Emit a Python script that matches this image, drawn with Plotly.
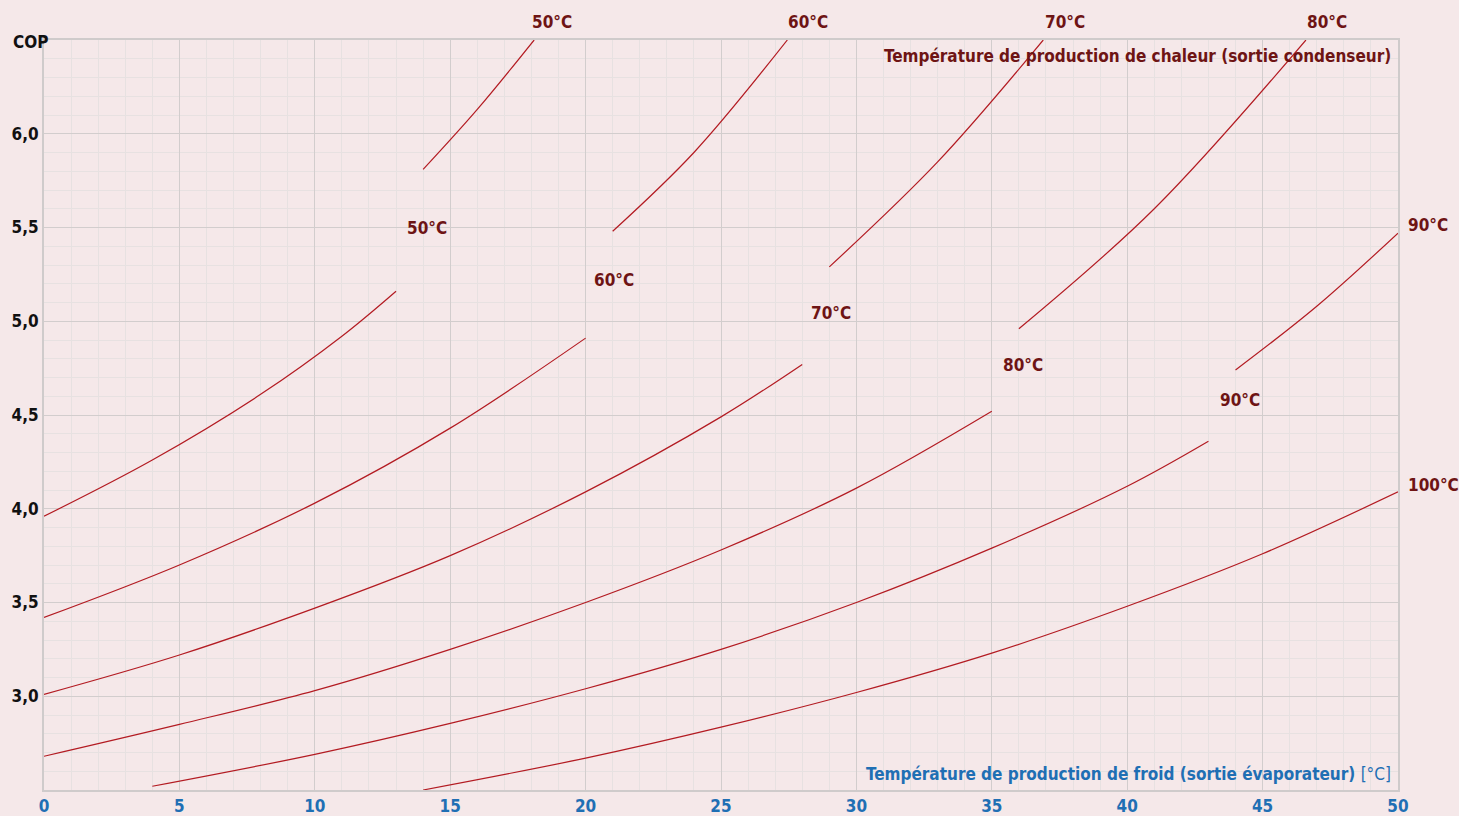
import plotly.graph_objects as go

# ---- lower family: COP vs evaporator outlet temperature (condenser outlet temperature as parameter)
x_l50 = [0, 4, 8, 11, 13]
cop_l50 = [3.96, 4.26, 4.61, 4.92, 5.16]

x_l60 = [0, 5, 10, 15, 20]
cop_l60 = [3.42, 3.70, 4.03, 4.43, 4.91]

x_l70 = [0, 5, 10, 15, 20, 25, 28]
cop_l70 = [3.01, 3.22, 3.47, 3.75, 4.09, 4.49, 4.77]

x_l80 = [0, 5, 10, 15, 20, 25, 30, 35]
cop_l80 = [2.68, 2.85, 3.03, 3.25, 3.50, 3.78, 4.11, 4.52]

x_l90 = [4, 10, 15, 20, 25, 30, 35, 40, 43]
cop_l90 = [2.52, 2.69, 2.855, 3.04, 3.25, 3.50, 3.79, 4.12, 4.36]

x_l100 = [14, 20, 25, 30, 35, 40, 45, 50]
cop_l100 = [2.50, 2.67, 2.835, 3.02, 3.23, 3.48, 3.76, 4.09]

# ---- upper family
x_u50 = [14, 16, 18.1]
cop_u50 = [5.81, 6.13, 6.50]

x_u60 = [21, 24, 27.45]
cop_u60 = [5.48, 5.90, 6.50]

x_u70 = [29, 33, 36.9]
cop_u70 = [5.29, 5.85, 6.50]

x_u80 = [36, 41, 46.6]
cop_u80 = [4.96, 5.60, 6.50]

x_u90 = [44, 47, 50]
cop_u90 = [4.74, 5.08, 5.47]

curves = [
    ("50°C", x_l50, cop_l50), ("60°C", x_l60, cop_l60), ("70°C", x_l70, cop_l70),
    ("80°C", x_l80, cop_l80), ("90°C", x_l90, cop_l90), ("100°C", x_l100, cop_l100),
    ("50°C", x_u50, cop_u50), ("60°C", x_u60, cop_u60), ("70°C", x_u70, cop_u70),
    ("80°C", x_u80, cop_u80), ("90°C", x_u90, cop_u90),
]

# labels: (text, x, y, anchor)
label_text = ["50°C", "60°C", "70°C", "80°C", "90°C", "100°C", "90°C",
              "50°C", "60°C", "70°C", "80°C"]
label_x = [14.15, 21.06, 29.07, 36.17, 44.18, 50.3, 50.3, 18.77, 28.22, 37.72, 47.36]
label_y = [5.50, 5.22, 5.045, 4.767, 4.58, 4.127, 5.514, 6.596, 6.596, 6.596, 6.596]
label_anchor = ["center"] * 5 + ["left", "left"] + ["center"] * 4

x_ticks = list(range(0, 51, 5))
y_ticks = [3.0, 3.5, 4.0, 4.5, 5.0, 5.5, 6.0]
y_ticktext = ["3,0", "3,5", "4,0", "4,5", "5,0", "5,5", "6,0"]
y_title = "COP"

X_RANGE = [0, 50]
Y_RANGE = [2.5, 6.5]

FONT = "DejaVu Sans Condensed, Liberation Sans Narrow, Arial Narrow, sans-serif"
RED = "#b31b22"
DARKRED = "#6e1414"
BLUE = "#1f6fb4"
BG = "#f5e8e9"

fig = go.Figure()
for name, xs, ys in curves:
    fig.add_trace(go.Scatter(x=xs, y=ys, mode="lines", name=name,
                             line=dict(color=RED, width=1.2, shape="spline", smoothing=1.0),
                             showlegend=False, hoverinfo="x+y"))


def to_paper(xv, yv):
    return ((xv - X_RANGE[0]) / (X_RANGE[1] - X_RANGE[0]),
            (yv - Y_RANGE[0]) / (Y_RANGE[1] - Y_RANGE[0]))


for t, xv, yv, anc in zip(label_text, label_x, label_y, label_anchor):
    px, py = to_paper(xv, yv)
    fig.add_annotation(x=px, y=py, xref="paper", yref="paper", text=f"<b>{t}</b>",
                       showarrow=False, font=dict(family=FONT, size=17, color=DARKRED),
                       xanchor=anc, yanchor="middle")

fig.add_annotation(x=-0.0244, y=0.997, xref="paper", yref="paper",
                   text=f"<b>{y_title}</b>", showarrow=False,
                   font=dict(family=FONT, size=17, color="#111111"),
                   xanchor="left", yanchor="middle")
fig.add_annotation(x=0.9965, y=0.979, xref="paper", yref="paper",
                   text="<b>Température de production de chaleur (sortie condenseur)</b>",
                   showarrow=False, font=dict(family=FONT, size=17, color=DARKRED),
                   xanchor="right", yanchor="middle")
fig.add_annotation(x=0.9965, y=0.021, xref="paper", yref="paper",
                   text="<b>Température de production de froid (sortie évaporateur) </b>[°C]",
                   showarrow=False, font=dict(family=FONT, size=17, color=BLUE),
                   xanchor="right", yanchor="middle")

fig.update_layout(
    width=1459, height=816,
    margin=dict(l=44, r=61, t=40, b=26),
    paper_bgcolor=BG, plot_bgcolor=BG,
    showlegend=False,
)
fig.update_xaxes(
    range=X_RANGE, tickvals=x_ticks, ticktext=[f"<b>{v}</b>" for v in x_ticks],
    tickfont=dict(family=FONT, size=17, color=BLUE),
    showgrid=True, gridcolor="#d2cdcd", gridwidth=1.3,
    minor=dict(dtick=1, showgrid=True, gridcolor="#e7e1e1", gridwidth=1),
    showline=True, linecolor="#cfcbcb", linewidth=2, mirror=True,
    zeroline=False, ticks="", ticklen=0, automargin=False,
)
fig.update_yaxes(
    range=Y_RANGE, tickvals=y_ticks, ticktext=[f"<b>{t}</b>" for t in y_ticktext],
    tickfont=dict(family=FONT, size=17, color="#111111"),
    showgrid=True, gridcolor="#d2cdcd", gridwidth=1.3,
    minor=dict(dtick=0.1, tick0=2.5, showgrid=True, gridcolor="#e7e1e1", gridwidth=1),
    showline=True, linecolor="#cfcbcb", linewidth=2, mirror=True,
    zeroline=False, ticks="", ticklen=0, automargin=False,
)

fig.write_html("out.html", config={"displayModeBar": False},
               post_script="document.body.style.margin='0';")
